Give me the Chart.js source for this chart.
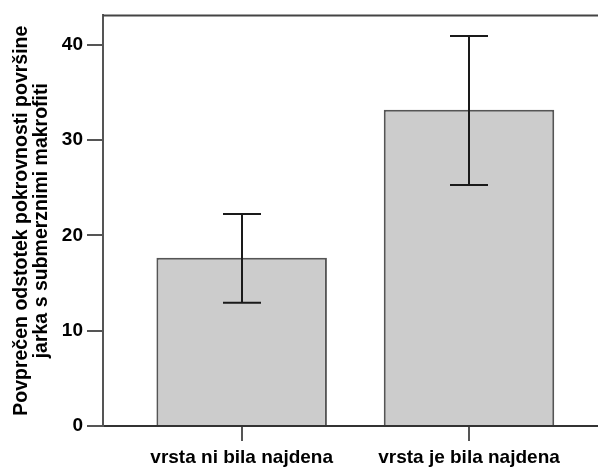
<!DOCTYPE html>
<html>
<head>
<meta charset="utf-8">
<script src="https://cdn.jsdelivr.net/npm/chart.js@4/dist/chart.umd.min.js"></script>
<style>
  html, body { margin: 0; padding: 0; background: #fff; }
  #wrap { width: 598px; height: 468px; }
</style>
</head>
<body>
<div id="wrap"><canvas id="c" width="598" height="468"></canvas></div>
<script>
// Mean percentage of ditch surface covered by submerged macrophytes
const categories = ['vrsta ni bila najdena', 'vrsta je bila najdena'];
const means = [17.65, 33.2];
const errLow = [12.95, 25.3];
const errHigh = [22.25, 40.95];
const yTicks = [0, 10, 20, 30, 40];
const yTitle = ['Povprečen odstotek pokrovnosti površine', 'jarka s submerznimi makrofiti'];

const FONT = "'Liberation Sans', Arial, sans-serif";

// Error bars with caps, drawn through the chart's own scales
const errorBars = {
  id: 'errorBars',
  afterDatasetsDraw(chart) {
    const { ctx, scales: { x, y } } = chart;
    ctx.save();
    ctx.strokeStyle = '#1a1a1a';
    ctx.lineWidth = 2;
    const half = 19;
    means.forEach((m, i) => {
      const px = Math.round(x.getPixelForValue(i));
      const yl = y.getPixelForValue(errLow[i]);
      const yh = y.getPixelForValue(errHigh[i]);
      ctx.beginPath();
      ctx.moveTo(px, yh); ctx.lineTo(px, yl);
      ctx.moveTo(px - half, yh); ctx.lineTo(px + half, yh);
      ctx.moveTo(px - half, yl); ctx.lineTo(px + half, yl);
      ctx.stroke();
    });
    ctx.restore();
  }
};

// Upper frame line of the plot area
const topFrame = {
  id: 'topFrame',
  afterDraw(chart) {
    const { ctx, chartArea: a } = chart;
    ctx.save();
    ctx.strokeStyle = '#444';
    ctx.lineWidth = 2;
    ctx.beginPath();
    ctx.moveTo(a.left, a.top);
    ctx.lineTo(chart.width, a.top);
    ctx.stroke();
    ctx.restore();
  }
};

new Chart(document.getElementById('c'), {
  type: 'bar',
  data: {
    datasets: [{
      data: means.map((v, i) => ({ x: i, y: v })),
      backgroundColor: '#cccccc',
      borderColor: '#555555',
      borderWidth: 2,
      borderSkipped: 'bottom',
      barPercentage: 0.75,
      categoryPercentage: 1.0
    }]
  },
  options: {
    responsive: false,
    animation: false,
    devicePixelRatio: 1,
    layout: { padding: { top: 14, left: 0, right: 0, bottom: 0 } },
    plugins: { legend: { display: false }, tooltip: { enabled: false } },
    scales: {
      x: {
        type: 'linear',
        offset: false,
        min: -0.61,
        max: 1.5675,
        afterBuildTicks(scale) { scale.ticks = categories.map((_, i) => ({ value: i })); },
        afterFit(scale) { scale.height = 42; },
        ticks: {
          autoSkip: false,
          maxRotation: 0,
          padding: 5,
          color: '#000',
          font: { family: FONT, size: 19, weight: 'bold' },
          callback: (v) => categories[v]
        },
        grid: { offset: false, drawOnChartArea: false, drawTicks: true, tickLength: 15, color: '#555', lineWidth: 2 },
        border: { display: true, color: '#333', width: 2 }
      },
      y: {
        min: 0,
        max: 43.1,
        afterBuildTicks(scale) { scale.ticks = yTicks.map(v => ({ value: v })); },
        afterFit(scale) { scale.width = 103; },
        ticks: {
          padding: 4,
          color: '#000',
          font: { family: FONT, size: 19, weight: 'bold' }
        },
        grid: { drawOnChartArea: false, drawTicks: true, tickLength: 16, color: '#555', lineWidth: 2 },
        border: { display: true, color: '#555', width: 2 },
        title: {
          display: true,
          text: yTitle,
          color: '#000',
          font: { family: FONT, size: 19.5, weight: 'bold', lineHeight: 1.0 },
          padding: { top: 12, bottom: 0 }
        }
      }
    }
  },
  plugins: [errorBars, topFrame]
});
</script>
</body>
</html>
